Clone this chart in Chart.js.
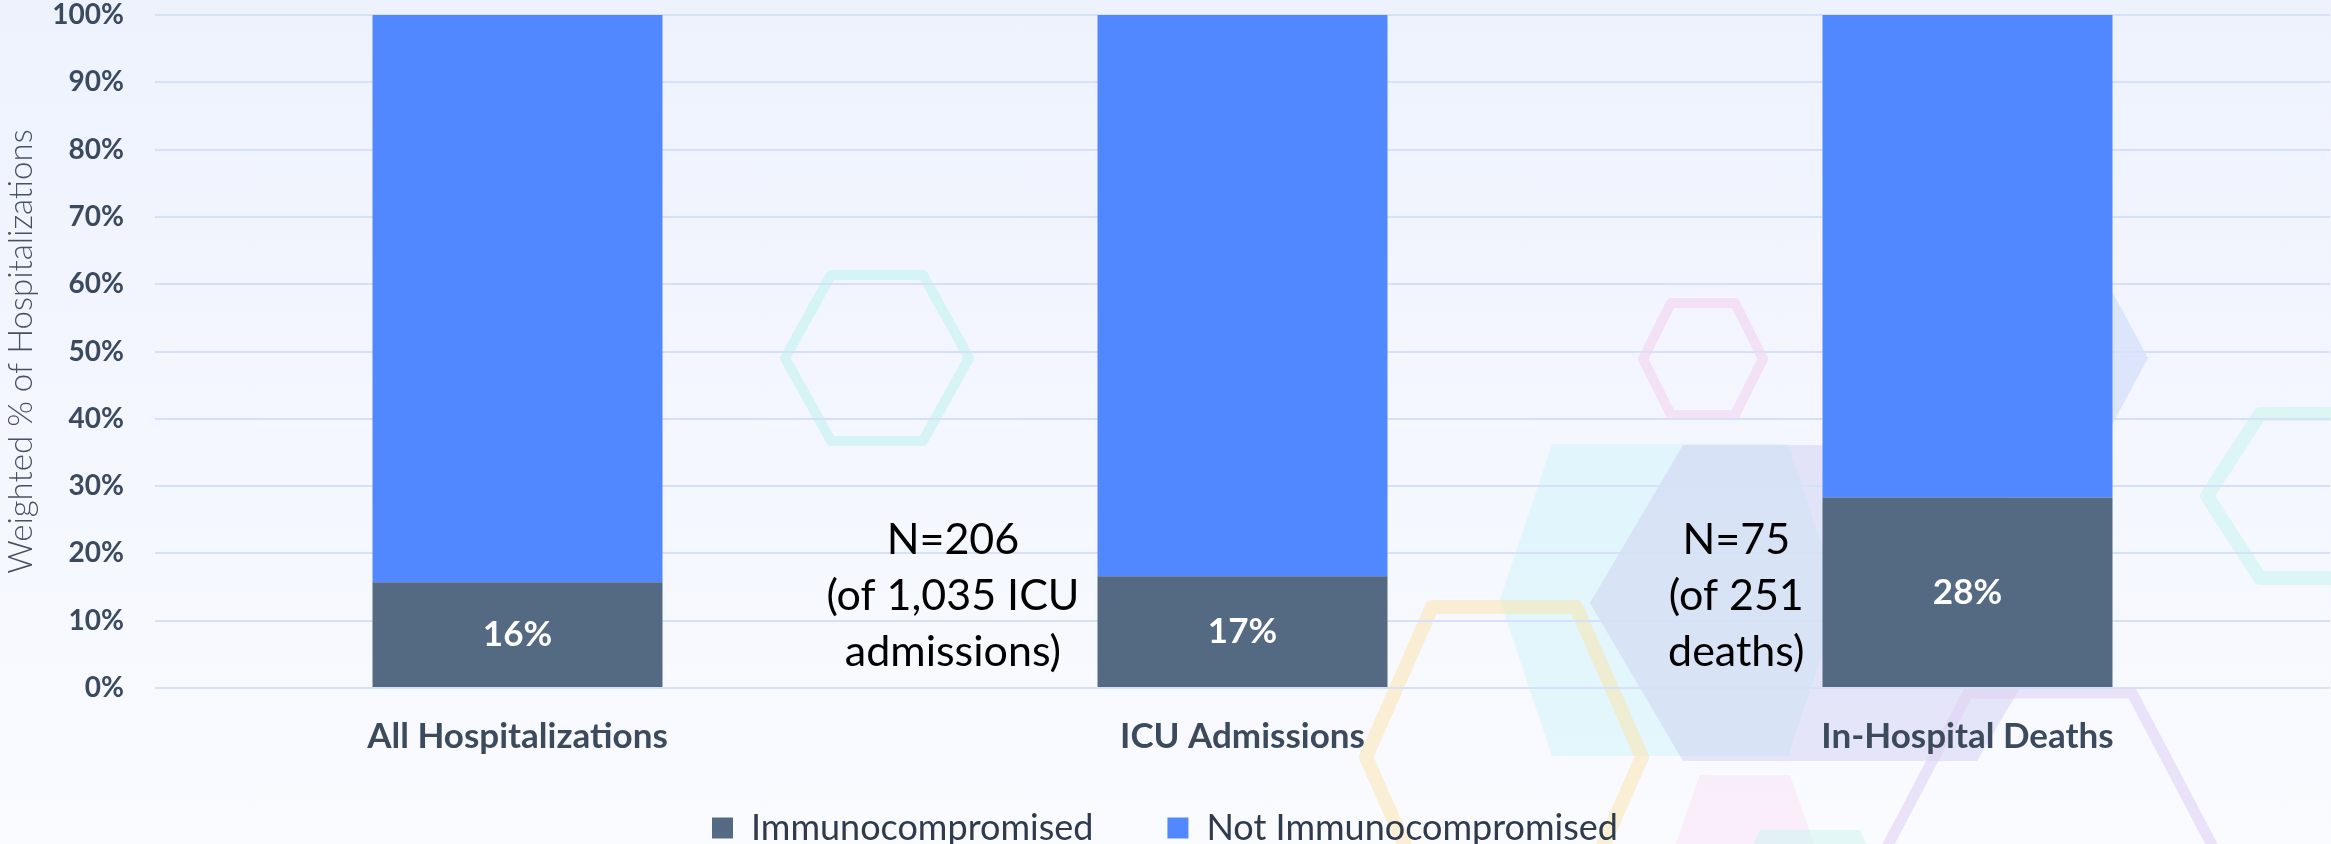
<!DOCTYPE html>
<html>
<head>
<meta charset="utf-8">
<script src="https://cdn.jsdelivr.net/npm/chart.js@4.4.1/dist/chart.umd.min.js"></script>
<style>
  html, body { margin:0; padding:0; }
  body { width:2331px; height:844px; overflow:hidden;
         background: linear-gradient(180deg, #eef2fd 0%, #f3f6fe 45%, #f9fbff 100%); }
  #wrap { position:relative; width:2331px; height:844px; }
</style>
</head>
<body>
<div id="wrap"><canvas id="c"></canvas></div>
<script>
// ---- data ----
const categories = ["All Hospitalizations", "ICU Admissions", "In-Hospital Deaths"];
const immunocompromised = [15.7, 16.6, 28.3];
const notImmunocompromised = [84.3, 83.4, 71.7];
const seriesNames = ["Immunocompromised", "Not Immunocompromised"];
const yTicks = [0, 10, 20, 30, 40, 50, 60, 70, 80, 90, 100];
const yTitle = "Weighted % of Hospitalizations";
const annotations = [
  null,
  ["N=206", "(of 1,035 ICU", "admissions)"],
  ["N=75", "(of 251", "deaths)"]
];

// ---- decorative background hexagons (not data) ----
function hexPath(ctx, cx, cy, top, mid, hh) {
  ctx.beginPath();
  ctx.moveTo(cx - mid, cy);
  ctx.lineTo(cx - top, cy - hh);
  ctx.lineTo(cx + top, cy - hh);
  ctx.lineTo(cx + mid, cy);
  ctx.lineTo(cx + top, cy + hh);
  ctx.lineTo(cx - top, cy + hh);
  ctx.closePath();
}
const decor = {
  id: 'decor',
  beforeDraw(chart) {
    const ctx = chart.ctx;
    ctx.save();
    ctx.lineJoin = 'round';
    const fills = [
      [1670, 600, 118, 170, 156, 'rgba(205,244,249,0.50)'],
      [1830, 603, 147, 240, 158, 'rgba(208,208,242,0.50)'],
      [2040, 358, 54, 108, 100, 'rgba(200,215,250,0.55)'],
      [1745, 875, 45, 80, 100, 'rgba(248,214,240,0.35)'],
      [1810, 915, 50, 90, 85, 'rgba(200,245,235,0.45)']
    ];
    fills.forEach(f => { hexPath(ctx, f[0], f[1], f[2], f[3], f[4]); ctx.fillStyle = f[5]; ctx.fill(); });
    const strokes = [
      [877, 358, 46, 92, 83, 10, 'rgba(190,243,236,0.55)'],
      [1703, 359, 32, 60, 56, 10, 'rgba(244,200,238,0.45)'],
      [1504, 757, 72, 138, 150, 14, 'rgba(252,228,170,0.50)'],
      [2050, 845, 82, 162, 152, 11, 'rgba(225,210,245,0.60)'],
      [2315, 496, 55, 108, 82, 14, 'rgba(190,243,236,0.45)']
    ];
    strokes.forEach(s => { hexPath(ctx, s[0], s[1], s[2], s[3], s[4]); ctx.lineWidth = s[5]; ctx.strokeStyle = s[6]; ctx.stroke(); });
    ctx.restore();
  }
};

const valueLabels = {
  id: 'valueLabels',
  afterDatasetsDraw(chart) {
    const ctx = chart.ctx;
    const meta = chart.getDatasetMeta(0);
    ctx.save();
    ctx.font = 'bold 35px Lato';
    ctx.fillStyle = '#ffffff';
    ctx.textAlign = 'center';
    ctx.textBaseline = 'middle';
    meta.data.forEach((bar, i) => {
      ctx.fillText(Math.round(immunocompromised[i]) + '%', bar.x, (bar.y + bar.base) / 2);
    });
    ctx.restore();
  }
};

const nLabels = {
  id: 'nLabels',
  afterDatasetsDraw(chart) {
    const ctx = chart.ctx;
    const meta = chart.getDatasetMeta(0);
    const y = chart.scales.y;
    ctx.save();
    ctx.font = '43px Lato';
    ctx.fillStyle = '#000000';
    ctx.textAlign = 'center';
    ctx.textBaseline = 'middle';
    annotations.forEach((lines, i) => {
      if (!lines) return;
      const bar = meta.data[i];
      const left = bar.x - bar.width / 2;
      const w = Math.max(...lines.map(l => ctx.measureText(l).width));
      const cx = left - 18 - w / 2;
      const mid = y.getPixelForValue(13.6);
      lines.forEach((l, k) => ctx.fillText(l, cx, mid + (k - 1) * 56));
    });
    ctx.restore();
  }
};

// place legend row at its reference height
const legendPlace = {
  id: 'legendPlace',
  afterLayout(chart) {
    const lg = chart.legend;
    if (!lg) return;
    const h = lg.height;
    lg.top = 736;
    lg.bottom = 736 + h;
  }
};

new Chart(document.getElementById('c'), {
  type: 'bar',
  data: {
    labels: categories,
    datasets: [
      { label: seriesNames[0], data: immunocompromised, backgroundColor: '#546a82', borderWidth: 0 },
      { label: seriesNames[1], data: notImmunocompromised, backgroundColor: '#5288ff', borderWidth: 0 }
    ]
  },
  options: {
    responsive: true,
    maintainAspectRatio: false,
    animation: false,
    layout: { padding: { top: 15, right: 1, left: 0, bottom: -62 } },
    datasets: { bar: { categoryPercentage: 1.0, barPercentage: 0.4 } },
    plugins: {
      tooltip: { enabled: false },
      legend: {
        position: 'bottom',
        labels: {
          boxWidth: 21, boxHeight: 21, padding: 74,
          color: '#2f3b4d',
          font: { family: 'Lato', size: 36 }
        }
      }
    },
    scales: {
      x: {
        stacked: true,
        grid: { display: false, drawTicks: false },
        border: { display: false },
        ticks: { color: '#3c4a5d', font: { family: 'Lato', size: 35, weight: 'bold' }, padding: 28 },
        afterFit: (a) => { a.paddingLeft = 0; a.paddingRight = 0; }
      },
      y: {
        stacked: true,
        min: 0, max: 100,
        afterBuildTicks: (a) => { a.ticks = yTicks.map(v => ({ value: v })); },
        grid: { color: '#d6e0f6', lineWidth: 2, drawTicks: false },
        border: { display: false },
        ticks: {
          color: '#3b4a5e', padding: 31,
          font: { family: 'Lato', size: 28, weight: 'bold' },
          callback: (v) => v + '%'
        },
        title: {
          display: true, text: yTitle, color: '#475163',
          font: { family: 'Lato', size: 33, weight: '300' },
          padding: { top: 2, bottom: 0 }
        },
        afterFit: (a) => { a.width = 155; a.paddingTop = 0; a.paddingBottom = 0; }
      }
    }
  },
  plugins: [decor, valueLabels, nLabels, legendPlace]
});
</script>
</body>
</html>
